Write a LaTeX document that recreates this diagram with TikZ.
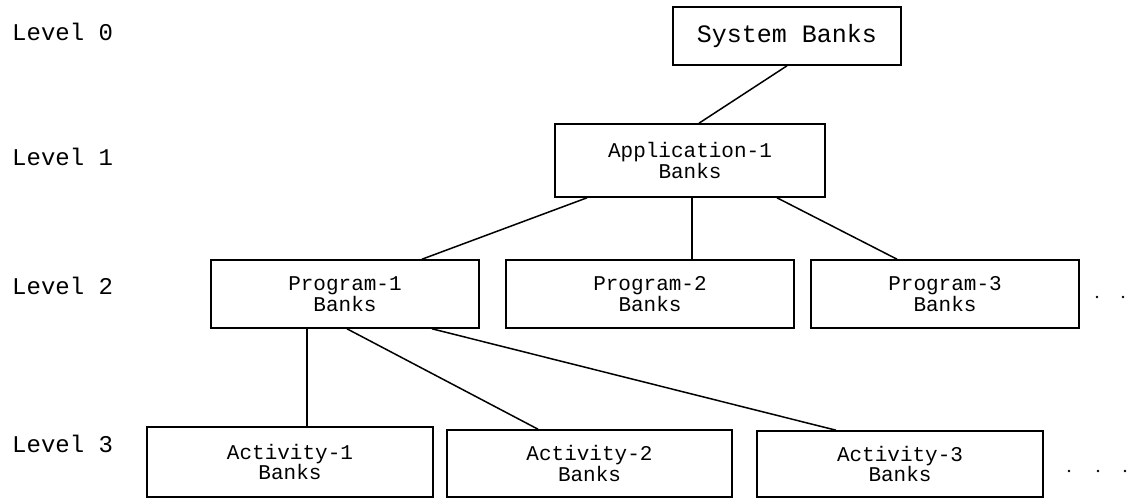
\documentclass[tikz,border=0pt]{standalone}
\usepackage{fontspec}
\setmonofont{Liberation Mono}
\newcommand\myboxfont{\fontsize{21pt}{16pt}\selectfont\ttfamily}
\newcommand\mybigfont{\fontsize{25pt}{20pt}\selectfont\ttfamily}
\newcommand\mylevelfont{\fontsize{24pt}{20pt}\selectfont\ttfamily}
\begin{document}
\begin{tikzpicture}[x=1pt,y=-1pt,
  bankbox/.style={draw, line width=1.6pt, rectangle, inner sep=0pt, align=center, font=\myboxfont},
  level/.style={anchor=west, inner sep=0pt, font=\mylevelfont},
  link/.style={line width=1.5pt},
  dotmark/.style={circle, fill, inner sep=0pt, minimum size=2.6pt}]
\useasboundingbox (0,0) rectangle (1145,500);

% level labels
\node[level] (l0) at (12,32) {Level 0};
\node[level] (l1) at (12,157) {Level 1};
\node[level] (l2) at (12,286) {Level 2};
\node[level] (l3) at (12,444) {Level 3};

% boxes
\node[bankbox, font=\mybigfont, minimum width=228pt, minimum height=58pt] (sys) at (787,36) {System Banks};
\node[bankbox, minimum width=270pt, minimum height=73pt] (app) at (690,160.5) {Application-1\\Banks};
\node[bankbox, minimum width=268pt, minimum height=68pt] (p1) at (345,294) {Program-1\\Banks};
\node[bankbox, minimum width=288pt, minimum height=68pt] (p2) at (650,294) {Program-2\\Banks};
\node[bankbox, minimum width=268pt, minimum height=68pt] (p3) at (945,294) {Program-3\\Banks};
\node[bankbox, minimum width=286pt, minimum height=70pt] (a1) at (290,462) {Activity-1\\Banks};
\node[bankbox, minimum width=285pt, minimum height=67pt] (a2) at (589.5,463.5) {Activity-2\\Banks};
\node[bankbox, minimum width=286pt, minimum height=66pt] (a3) at (900,464) {Activity-3\\Banks};

% connectors
\draw[link] (sys.south) -- ([xshift=9pt]app.north);
\draw[link] ([xshift=-103pt]app.south) -- ([xshift=77pt]p1.north);
\draw[link] ([xshift=2pt]app.south) -- ([xshift=42pt]p2.north);
\draw[link] ([xshift=87pt]app.south) -- ([xshift=-48pt]p3.north);
\draw[link] ([xshift=-38pt]p1.south) -- ([xshift=17pt]a1.north);
\draw[link] ([xshift=2pt]p1.south) -- ([xshift=-51.5pt]a2.north);
\draw[link] ([xshift=87pt]p1.south) -- ([xshift=-64pt]a3.north);

% continuation dots
\node[dotmark] (d21) at (1097,297) {};
\node[dotmark] (d22) at (1123,297) {};
\node[dotmark] (d31) at (1069,471) {};
\node[dotmark] (d32) at (1098,471) {};
\node[dotmark] (d33) at (1125,471) {};
\end{tikzpicture}
\end{document}
